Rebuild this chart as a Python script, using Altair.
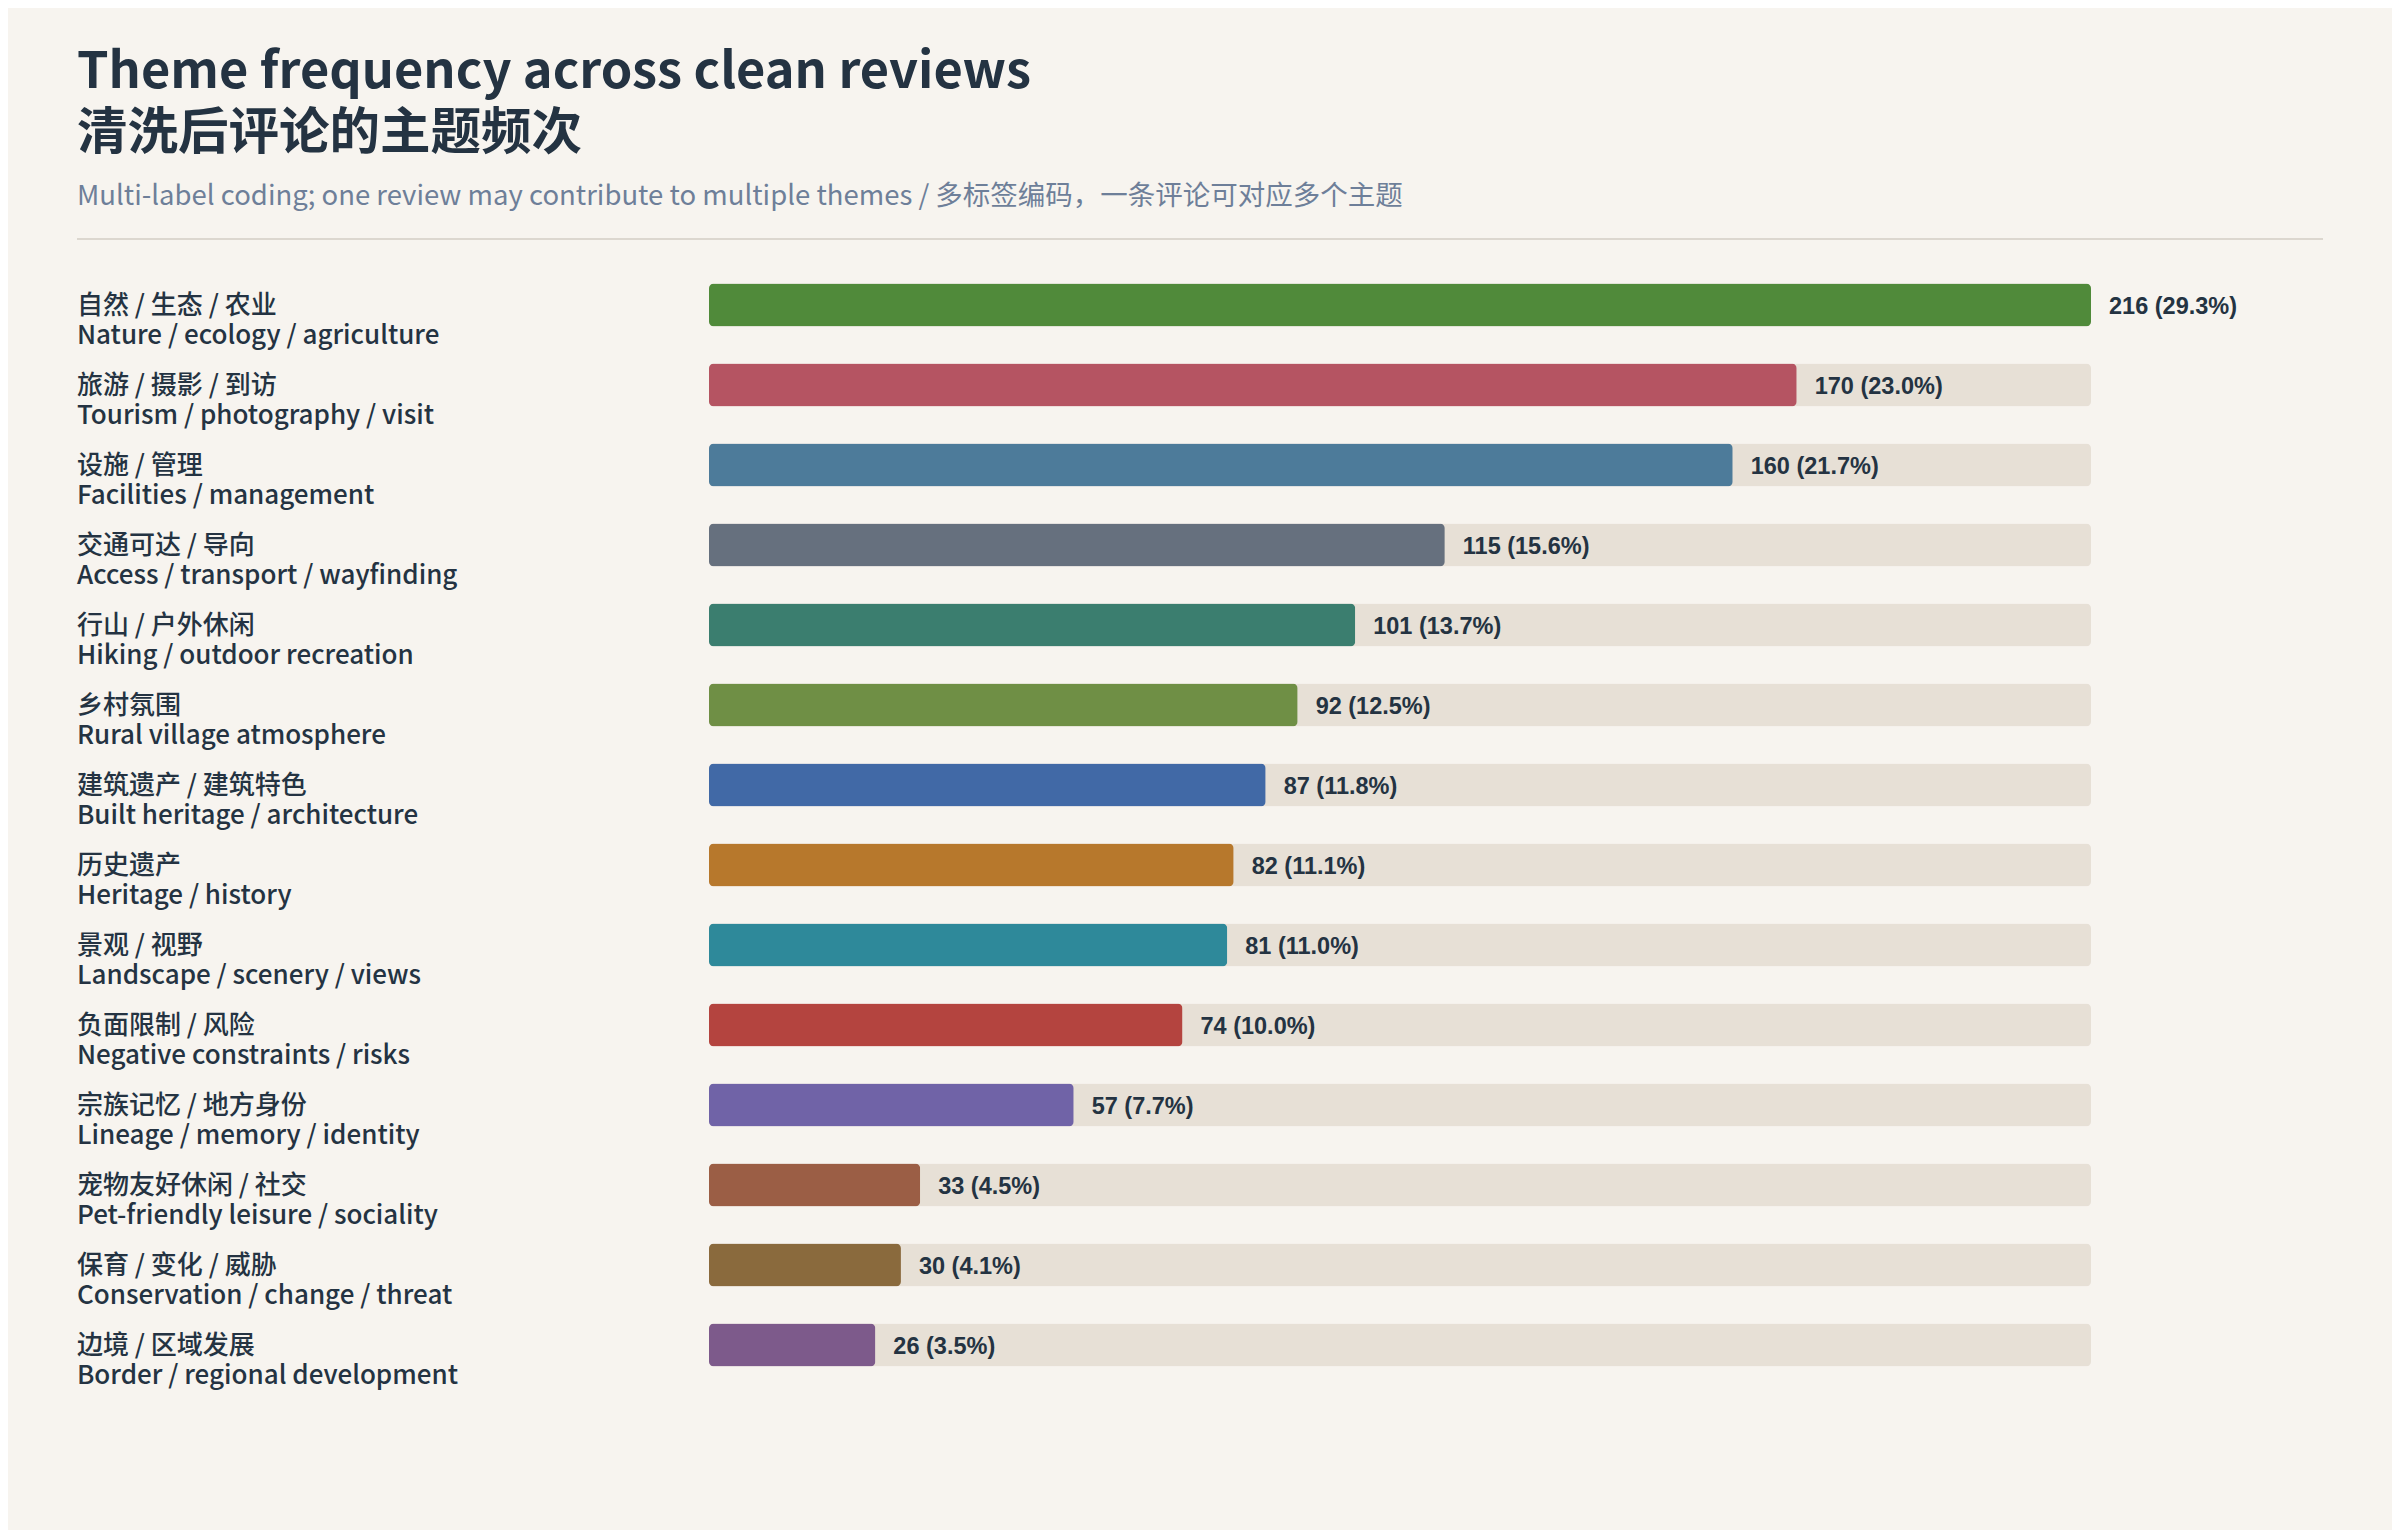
import altair as alt
import pandas as pd

# ---- data ----
themes_zh = ["自然 / 生态 / 农业", "旅游 / 摄影 / 到访", "设施 / 管理", "交通可达 / 导向",
             "行山 / 户外休闲", "乡村氛围", "建筑遗产 / 建筑特色", "历史遗产", "景观 / 视野",
             "负面限制 / 风险", "宗族记忆 / 地方身份", "宠物友好休闲 / 社交", "保育 / 变化 / 威胁",
             "边境 / 区域发展"]
themes_en = ["Nature / ecology / agriculture", "Tourism / photography / visit",
             "Facilities / management", "Access / transport / wayfinding",
             "Hiking / outdoor recreation", "Rural village atmosphere",
             "Built heritage / architecture", "Heritage / history",
             "Landscape / scenery / views", "Negative constraints / risks",
             "Lineage / memory / identity", "Pet-friendly leisure / sociality",
             "Conservation / change / threat", "Border / regional development"]
counts = [216, 170, 160, 115, 101, 92, 87, 82, 81, 74, 57, 33, 30, 26]
percents = [29.3, 23.0, 21.7, 15.6, 13.7, 12.5, 11.8, 11.1, 11.0, 10.0, 7.7, 4.5, 4.1, 3.5]
colors = ["#508a3a", "#b55462", "#4d7b9a", "#66707e", "#3b7e6f", "#6f8f45", "#4169a6",
          "#b7782c", "#2e899a", "#b4443f", "#7063a7", "#9b5e45", "#8a6a3d", "#7d5a8b"]

title_en = "Theme frequency across clean reviews"
title_zh = "清洗后评论的主题频次"
subtitle = "Multi-label coding; one review may contribute to multiple themes / 多标签编码，一条评论可对应多个主题"

df = pd.DataFrame({
    "zh": themes_zh,
    "en": themes_en,
    "both": [f"{z}\n{e}" for z, e in zip(themes_zh, themes_en)],
    "count": counts,
    "track": [max(counts)] * len(counts),
    "label": [f"{c} ({p:.1f}%)" for c, p in zip(counts, percents)],
})
tdf = pd.DataFrame({"a": [f"{title_en}\n{title_zh}"], "s": [subtitle]})

# ---- layout ----
W, H = 2246, 1120
FONT = "'Noto Sans CJK SC', 'Noto Sans', sans-serif"
INK = "#243342"

xscale = alt.Scale(domain=[0, max(counts)], range=[632, 2014])
yenc = alt.Y("zh:N", sort=themes_zh,
             scale=alt.Scale(paddingInner=0.4625, paddingOuter=0.23125), axis=None)

base = alt.Chart(df)

track = base.mark_bar(color="#e7e0d6", cornerRadius=5).encode(
    x=alt.X("track:Q", scale=xscale, axis=None), y=yenc)

bars = base.mark_bar(cornerRadius=5).encode(
    x=alt.X("count:Q", scale=xscale, axis=None), y=yenc,
    color=alt.Color("en:N", scale=alt.Scale(domain=themes_en, range=colors), legend=None))

values = base.mark_text(align="left", baseline="middle", dx=18, dy=2,
                        font="'Liberation Sans', Arial, sans-serif",
                        fontSize=23.5, fontWeight="bold", color=INK).encode(
    x=alt.X("count:Q", scale=xscale, axis=None), y=yenc, text="label:N")

labels = base.mark_text(align="left", baseline="middle", dy=1, lineBreak="\n",
                        lineHeight=29.5, font=FONT, fontSize=26,
                        fontWeight=500, color=INK).encode(
    x=alt.value(0), y=yenc, text="both:N")

tb = alt.Chart(tdf)
title = tb.mark_text(align="left", baseline="alphabetic", lineBreak="\n", lineHeight=61,
                     font=FONT, fontSize=50.5, fontWeight="bold", color=INK).encode(
    x=alt.value(0), y=alt.value(-177), text="a:N")
st = tb.mark_text(align="left", baseline="middle", font=FONT, fontSize=27.5,
                  color="#6e7f99").encode(
    x=alt.value(0), y=alt.value(-68), text="s:N")
rule = tb.mark_rule(color="#dcd7cf", strokeWidth=2).encode(
    x=alt.value(0), x2=alt.value(W), y=alt.value(-26))

chart = alt.layer(track, bars, values, labels, title, st, rule).properties(
    width=W, height=H,
    autosize=alt.AutoSizeParams(type="none"),
    padding={"left": 69, "top": 257, "right": 69, "bottom": 145},
    background="#f7f4ef",
).configure_view(stroke=None)

chart.save("out.html", embed_options={"renderer": "svg", "actions": False})
